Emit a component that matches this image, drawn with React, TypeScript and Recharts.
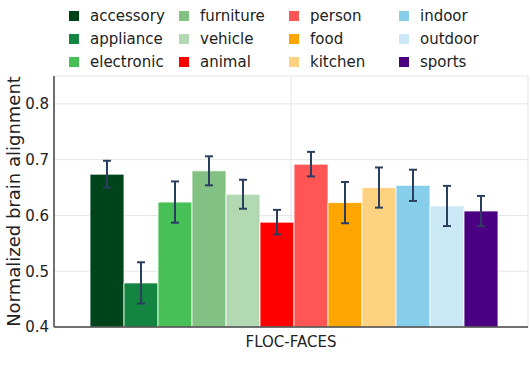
import {
  BarChart,
  Bar,
  XAxis,
  YAxis,
  CartesianGrid,
  ErrorBar,
} from "recharts";

const CATEGORIES = [
  "accessory",
  "appliance",
  "electronic",
  "furniture",
  "vehicle",
  "animal",
  "person",
  "food",
  "kitchen",
  "indoor",
  "outdoor",
  "sports",
];

const VALUES = [
  0.674, 0.479, 0.624, 0.68, 0.638, 0.588, 0.692, 0.623, 0.65, 0.654, 0.617,
  0.608,
];

const ERRORS = [
  0.024, 0.037, 0.037, 0.026, 0.026, 0.022, 0.022, 0.037, 0.036, 0.028, 0.036,
  0.027,
];

const COLORS = [
  "#00441b",
  "#138540",
  "#48c058",
  "#82c183",
  "#b2d9b1",
  "#ff0000",
  "#ff5555",
  "#ffa500",
  "#ffd282",
  "#87ceeb",
  "#cae8f5",
  "#4b0082",
];

const GROUP = "FLOC-FACES";
const Y_TICKS = [0.4, 0.5, 0.6, 0.7, 0.8];

const FONT = "'DejaVu Sans', sans-serif";

const row: Record<string, string | number> = { name: GROUP };
CATEGORIES.forEach((c, i) => {
  row[c] = VALUES[i];
  row[`${c}_err`] = ERRORS[i];
});
const chartData = [row];

function YLabel(props: any) {
  const vb = props.viewBox || {};
  const cx = (vb.x ?? 0) + 13;
  const cy = (vb.y ?? 0) + (vb.height ?? 0) / 2;
  return (
    <text
      x={cx}
      y={cy}
      transform={`rotate(-90, ${cx}, ${cy})`}
      textAnchor="middle"
      dominantBaseline="central"
      fontSize={18}
      fontFamily={FONT}
      fill="#222"
    >
      Normalized brain alignment
    </text>
  );
}

function LegendBlock() {
  return (
    <div
      style={{
        position: "absolute",
        left: 69,
        top: 4,
        display: "grid",
        gridTemplateColumns: "110px 110px 110px 110px",
        gridTemplateRows: "23px 23px 23px",
        gridAutoFlow: "column",
        fontFamily: FONT,
        fontSize: 15,
        color: "#222",
        pointerEvents: "none",
      }}
    >
      {CATEGORIES.map((c, i) => (
        <div key={c} style={{ display: "flex", alignItems: "center" }}>
          <span
            style={{
              display: "inline-block",
              width: 10,
              height: 10,
              background: COLORS[i],
              marginRight: 11,
            }}
          />
          <span>{c}</span>
        </div>
      ))}
    </div>
  );
}

export default function App() {
  return (
    <div
      style={{
        position: "absolute",
        left: 0,
        top: 0,
        width: 529,
        height: 374,
        background: "#fff",
        fontFamily: FONT,
      }}
    >
      <BarChart
        width={529}
        height={374}
        data={chartData}
        margin={{ top: 76, right: 1, bottom: 0, left: 0 }}
        barCategoryGap={36}
        barGap={0}
      >
        <CartesianGrid stroke="#e5e5e5" strokeWidth={1} />
        <XAxis
          dataKey="name"
          tickLine={false}
          tickSize={4}
          tickMargin={5}
          height={47}
          axisLine={{ stroke: "#444", strokeWidth: 1.5 }}
          tick={{ fontSize: 15, fill: "#222", fontFamily: FONT }}
        />
        <XAxis
          xAxisId="top"
          orientation="top"
          dataKey="name"
          height={0}
          tick={false}
          tickLine={false}
          axisLine={{ stroke: "#444", strokeWidth: 1.5 }}
        />
        <YAxis
          domain={[0.4, 0.85]}
          ticks={Y_TICKS}
          allowDataOverflow
          width={54}
          tickLine={false}
          tickSize={3}
          tickMargin={2}
          axisLine={{ stroke: "#444", strokeWidth: 1.5 }}
          tick={{ fontSize: 15, fill: "#222", fontFamily: FONT }}
          tickFormatter={(v: number) => v.toFixed(1)}
          label={{ content: YLabel }}
        />
        <YAxis
          yAxisId="right"
          orientation="right"
          domain={[0.4, 0.85]}
          width={0}
          tick={false}
          tickLine={false}
          axisLine={{ stroke: "#444", strokeWidth: 1.5 }}
        />
        {CATEGORIES.map((c, i) => (
          <Bar
            key={c}
            dataKey={c}
            fill={COLORS[i]}
            stroke="#fff"
            strokeWidth={0.8}
            isAnimationActive={false}
          >
            <ErrorBar
              dataKey={`${c}_err`}
              width={4}
              stroke="#2a3f5f"
              strokeWidth={2}
              direction="y"
            />
          </Bar>
        ))}
      </BarChart>
      <LegendBlock />
    </div>
  );
}
